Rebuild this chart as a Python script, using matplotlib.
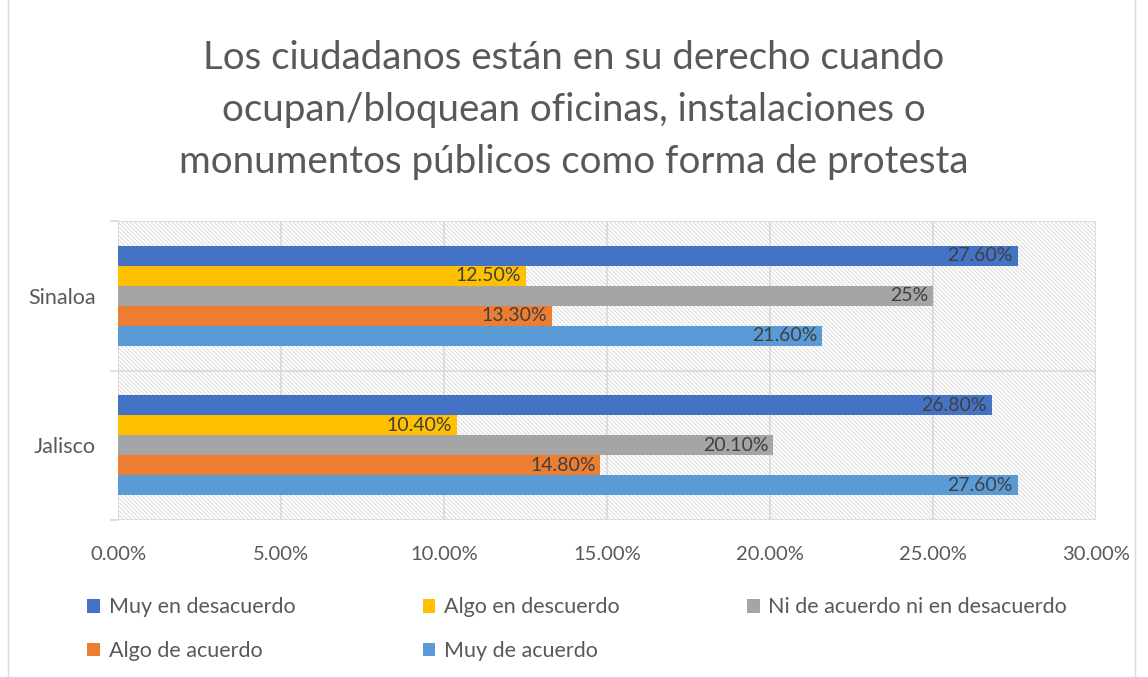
import matplotlib
matplotlib.use("Agg")
import matplotlib.pyplot as plt
from matplotlib.patches import Rectangle
from matplotlib.ticker import FuncFormatter

plt.rcParams["font.family"] = ["Lato", "DejaVu Sans"]
plt.rcParams["hatch.linewidth"] = 0.7
plt.rcParams["hatch.color"] = "#dadada"

# datos
categorias = ["Jalisco", "Sinaloa"]
series = ["Muy en desacuerdo", "Algo en descuerdo",
          "Ni de acuerdo ni en desacuerdo", "Algo de acuerdo", "Muy de acuerdo"]
valores_jalisco = [26.8, 10.4, 20.1, 14.8, 27.6]
valores_sinaloa = [27.6, 12.5, 25.0, 13.3, 21.6]
etiquetas_jalisco = ["26.80%", "10.40%", "20.10%", "14.80%", "27.60%"]
etiquetas_sinaloa = ["27.60%", "12.50%", "25%", "13.30%", "21.60%"]
colores = ["#4472C4", "#FFC000", "#A5A5A5", "#ED7D31", "#5B9BD5"]
titulo = ("Los ciudadanos están en su derecho cuando\n"
          "ocupan/bloquean oficinas, instalaciones o\n"
          "monumentos públicos como forma de protesta")

fig = plt.figure(figsize=(11.48, 6.77), dpi=100)
ax = fig.add_axes([118 / 1148, 1 - 520 / 677, (1096 - 118) / 1148, (520 - 221) / 677])

# fondo rayado
ax.add_patch(Rectangle((0, 0), 1, 1, transform=ax.transAxes, facecolor="white",
                       edgecolor="#dadada", hatch="\\" * 8, linewidth=0, zorder=0))

h = 20 / 149
valores = [valores_jalisco, valores_sinaloa]
etiquetas = [etiquetas_jalisco, etiquetas_sinaloa]
handles = []
for c, centro in enumerate([0.5, 1.5]):
    for i in range(5):
        y = centro + (2 - i) * h
        b = ax.barh(y, valores[c][i], height=h, color=colores[i], zorder=3,
                    label=series[i] if c == 0 else None)
        if c == 0:
            handles.append(b)
        ax.text(valores[c][i] - 0.15, y, etiquetas[c][i], ha="right", va="center",
                fontsize=14, color="#404040", zorder=4)

ax.set_xlim(0, 30)
ax.set_ylim(0, 2)
ax.set_xticks([0, 5, 10, 15, 20, 25, 30])
ax.xaxis.set_major_formatter(FuncFormatter(lambda v, p: f"{v:.2f}%"))
ax.grid(axis="x", color="#d9d9d9", linewidth=1.2, zorder=1)
for yy in [0, 1, 2]:
    ax.axhline(yy, color="#d9d9d9", linewidth=1.2, zorder=1)
    ax.plot([-0.2, 0], [yy, yy], color="#d9d9d9", linewidth=1.2, clip_on=False)
ax.axvline(0, color="#d9d9d9", linewidth=1.2, zorder=2)
ax.set_yticks([0.5, 1.5])
ax.set_yticklabels(categorias)
ax.tick_params(axis="x", length=0, labelsize=14.5, labelcolor="#595959", pad=19)
ax.tick_params(axis="y", length=0, labelsize=15.5, labelcolor="#595959", pad=16)
for s in ax.spines.values():
    s.set_visible(False)

fig.text(0.5, 1 - 110 / 677, titulo, ha="center", va="center", fontsize=27.7,
         color="#595959", linespacing=1.55)

orden = [0, 3, 1, 4, 2]
fig.legend([handles[k] for k in orden], [series[k] for k in orden], ncol=3,
           loc="upper left", bbox_to_anchor=(68 / 1148, 1 - 578 / 677), frameon=False,
           fontsize=15.5, labelcolor="#595959", handlelength=0.6, handleheight=0.6,
           handletextpad=0.4, columnspacing=5.9, labelspacing=1.1)

# borde del gráfico
fig.add_artist(Rectangle((8 / 1148, -0.01), 1127 / 1148, 1.02, transform=fig.transFigure,
                         fill=False, edgecolor="#d9d9d9", linewidth=1))

fig.savefig("out.png", dpi=100)
